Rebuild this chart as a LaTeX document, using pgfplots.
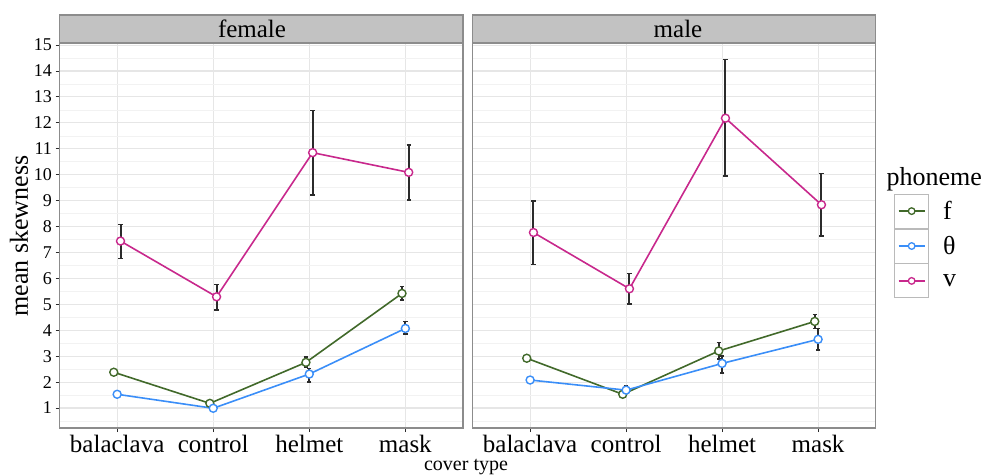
\documentclass[border=0pt]{standalone}
\usepackage{pgfplots}
\usepackage{pgfplotstable}
\pgfplotsset{compat=1.18}
\usepackage{fontspec}
\setmainfont{Liberation Serif}
\definecolor{cf}{HTML}{41692A}
\definecolor{ct}{HTML}{3A8EF8}
\definecolor{cv}{HTML}{C8288C}
\definecolor{gridmaj}{HTML}{E6E6E6}
\definecolor{gridmin}{HTML}{F2F2F2}
\definecolor{framec}{HTML}{8C8C8C}
\definecolor{stripfill}{HTML}{C2C2C2}
\definecolor{errc}{HTML}{2B2B2B}

% female
\pgfplotstableread{
x y ep em
0.965 2.38 0.07 0.07
1.965 1.18 0.07 0.07
2.965 2.76 0.20 0.17
3.965 5.42 0.26 0.26
}\femF
\pgfplotstableread{
x y ep em
1 1.53 0.05 0.05
2 0.99 0.05 0.05
3 2.31 0.22 0.30
4 4.07 0.26 0.22
}\femT
\pgfplotstableread{
x y ep em
1.035 7.44 0.64 0.67
2.035 5.29 0.48 0.51
3.035 10.85 1.62 1.64
4.035 10.09 1.05 1.07
}\femV
% male
\pgfplotstableread{
x y ep em
0.965 2.92 0.07 0.07
1.965 1.53 0.12 0.05
2.965 3.20 0.33 0.30
3.965 4.34 0.27 0.27
}\malF
\pgfplotstableread{
x y ep em
1 2.08 0.10 0.08
2 1.69 0.15 0.12
3 2.72 0.28 0.36
4 3.65 0.42 0.41
}\malT
\pgfplotstableread{
x y ep em
1.035 7.77 1.21 1.23
2.035 5.60 0.59 0.59
3.035 12.18 2.27 2.23
4.035 8.84 1.21 1.20
}\malV

\pgfplotsset{
  panel/.style={
    scale only axis, width=403.5pt, height=385pt,
    anchor=south west,
    xmin=0.4, xmax=4.6, ymin=0.229, ymax=15.08,
    xtick={1,2,3,4}, xticklabels={balaclava,control,helmet,mask},
    ytick={1,...,15}, minor ytick={0.5,1.5,...,14.5},
    yticklabels={1,2,3,4,5,6,7,8,9,10,11,12,13,14,15},
    grid=both,
    major grid style={gridmaj, line width=1.1pt},
    minor grid style={gridmin, line width=0.6pt},
    axis line style={framec, line width=1.2pt},
    tick align=outside, major tick length=4pt, minor tick length=0pt,
    tick style={errc, line width=0.9pt},
    xtick pos=bottom, ytick pos=left,
    /pgf/number format/assume math mode=true,
    xticklabel style={font=\fontsize{25}{25}\selectfont, anchor=base, yshift=-20pt},
    yticklabel style={font=\fontsize{18}{18}\selectfont, anchor=east},
    clip=false,
  },
  ebar/.style={only marks, mark=none, forget plot,
    error bars/.cd, y dir=both, y explicit,
    error bar style={errc, line width=2pt},
    error mark options={errc, rotate=90, mark size=2.2pt, line width=1.5pt}},
  ser/.style={#1, line width=1.6pt, mark=*, mark size=4pt,
    mark options={fill=white, draw=#1, line width=1.4pt}, forget plot},
}

\begin{document}
\begin{tikzpicture}
\useasboundingbox (0,0) rectangle (982pt,475pt);

% strips
\fill[stripfill] (59.5pt,432.5pt) rectangle (463pt,460pt);
\draw[framec, line width=1.2pt] (59.5pt,432.5pt) rectangle (463pt,460pt);
\node[anchor=base, font=\fontsize{25}{25}\selectfont] at (252pt,437pt) {female};
\fill[stripfill] (472.5pt,432.5pt) rectangle (875.7pt,460pt);
\draw[framec, line width=1.2pt] (472.5pt,432.5pt) rectangle (875.7pt,460pt);
\node[anchor=base, font=\fontsize{25}{25}\selectfont] at (678pt,437pt) {male};

\begin{axis}[panel, at={(59.5pt,47pt)}]
\addplot[ebar] table[x=x,y=y,y error plus=ep,y error minus=em]{\femF};
\addplot[ebar] table[x=x,y=y,y error plus=ep,y error minus=em]{\femT};
\addplot[ebar] table[x=x,y=y,y error plus=ep,y error minus=em]{\femV};
\addplot[ser=cf] table[x=x,y=y]{\femF};
\addplot[ser=ct] table[x=x,y=y]{\femT};
\addplot[ser=cv] table[x=x,y=y]{\femV};
\end{axis}

\begin{axis}[panel, at={(472.5pt,47pt)}, width=403.2pt,
  yticklabels={}, ytick style={draw=none},
  legend style={at={(axis description cs:1,0.4727)}, anchor=west, xshift=18.3pt,
    draw=none, fill=none, inner sep=0pt, row sep=0pt, column sep=12pt,
    font=\fontsize{26}{26}\selectfont, cells={anchor=west}},
]
\addplot[ebar] table[x=x,y=y,y error plus=ep,y error minus=em]{\malF};
\addplot[ebar] table[x=x,y=y,y error plus=ep,y error minus=em]{\malT};
\addplot[ebar] table[x=x,y=y,y error plus=ep,y error minus=em]{\malV};
\addplot[ser=cf] table[x=x,y=y]{\malF};
\addplot[ser=ct] table[x=x,y=y]{\malT};
\addplot[ser=cv] table[x=x,y=y]{\malV};
\addlegendimage{legend image code/.code={
  \draw[framec!60, line width=0.9pt, fill=white] (0pt,-17pt) rectangle (34pt,17pt);
  \draw[cf, line width=1.6pt] (4pt,0pt) -- (30pt,0pt);
  \draw[cf, line width=1.3pt, fill=white] (17pt,0pt) circle (3.3pt);}}
\addlegendentry{f}
\addlegendimage{legend image code/.code={
  \draw[framec!60, line width=0.9pt, fill=white] (0pt,-17pt) rectangle (34pt,17pt);
  \draw[ct, line width=1.6pt] (4pt,0pt) -- (30pt,0pt);
  \draw[ct, line width=1.3pt, fill=white] (17pt,0pt) circle (3.3pt);}}
\addlegendentry{θ}
\addlegendimage{legend image code/.code={
  \draw[framec!60, line width=0.9pt, fill=white] (0pt,-17pt) rectangle (34pt,17pt);
  \draw[cv, line width=1.6pt] (4pt,0pt) -- (30pt,0pt);
  \draw[cv, line width=1.3pt, fill=white] (17pt,0pt) circle (3.3pt);}}
\addlegendentry{v}
\end{axis}

\node[anchor=base west, font=\fontsize{26}{26}\selectfont] at (883pt,290pt) {phoneme};
\node[rotate=90, anchor=base, font=\fontsize{26}{26}\selectfont] at (28pt,239pt) {mean skewness};
\node[anchor=base, font=\fontsize{20}{20}\selectfont] at (466pt,5pt) {cover type};
\end{tikzpicture}
\end{document}
